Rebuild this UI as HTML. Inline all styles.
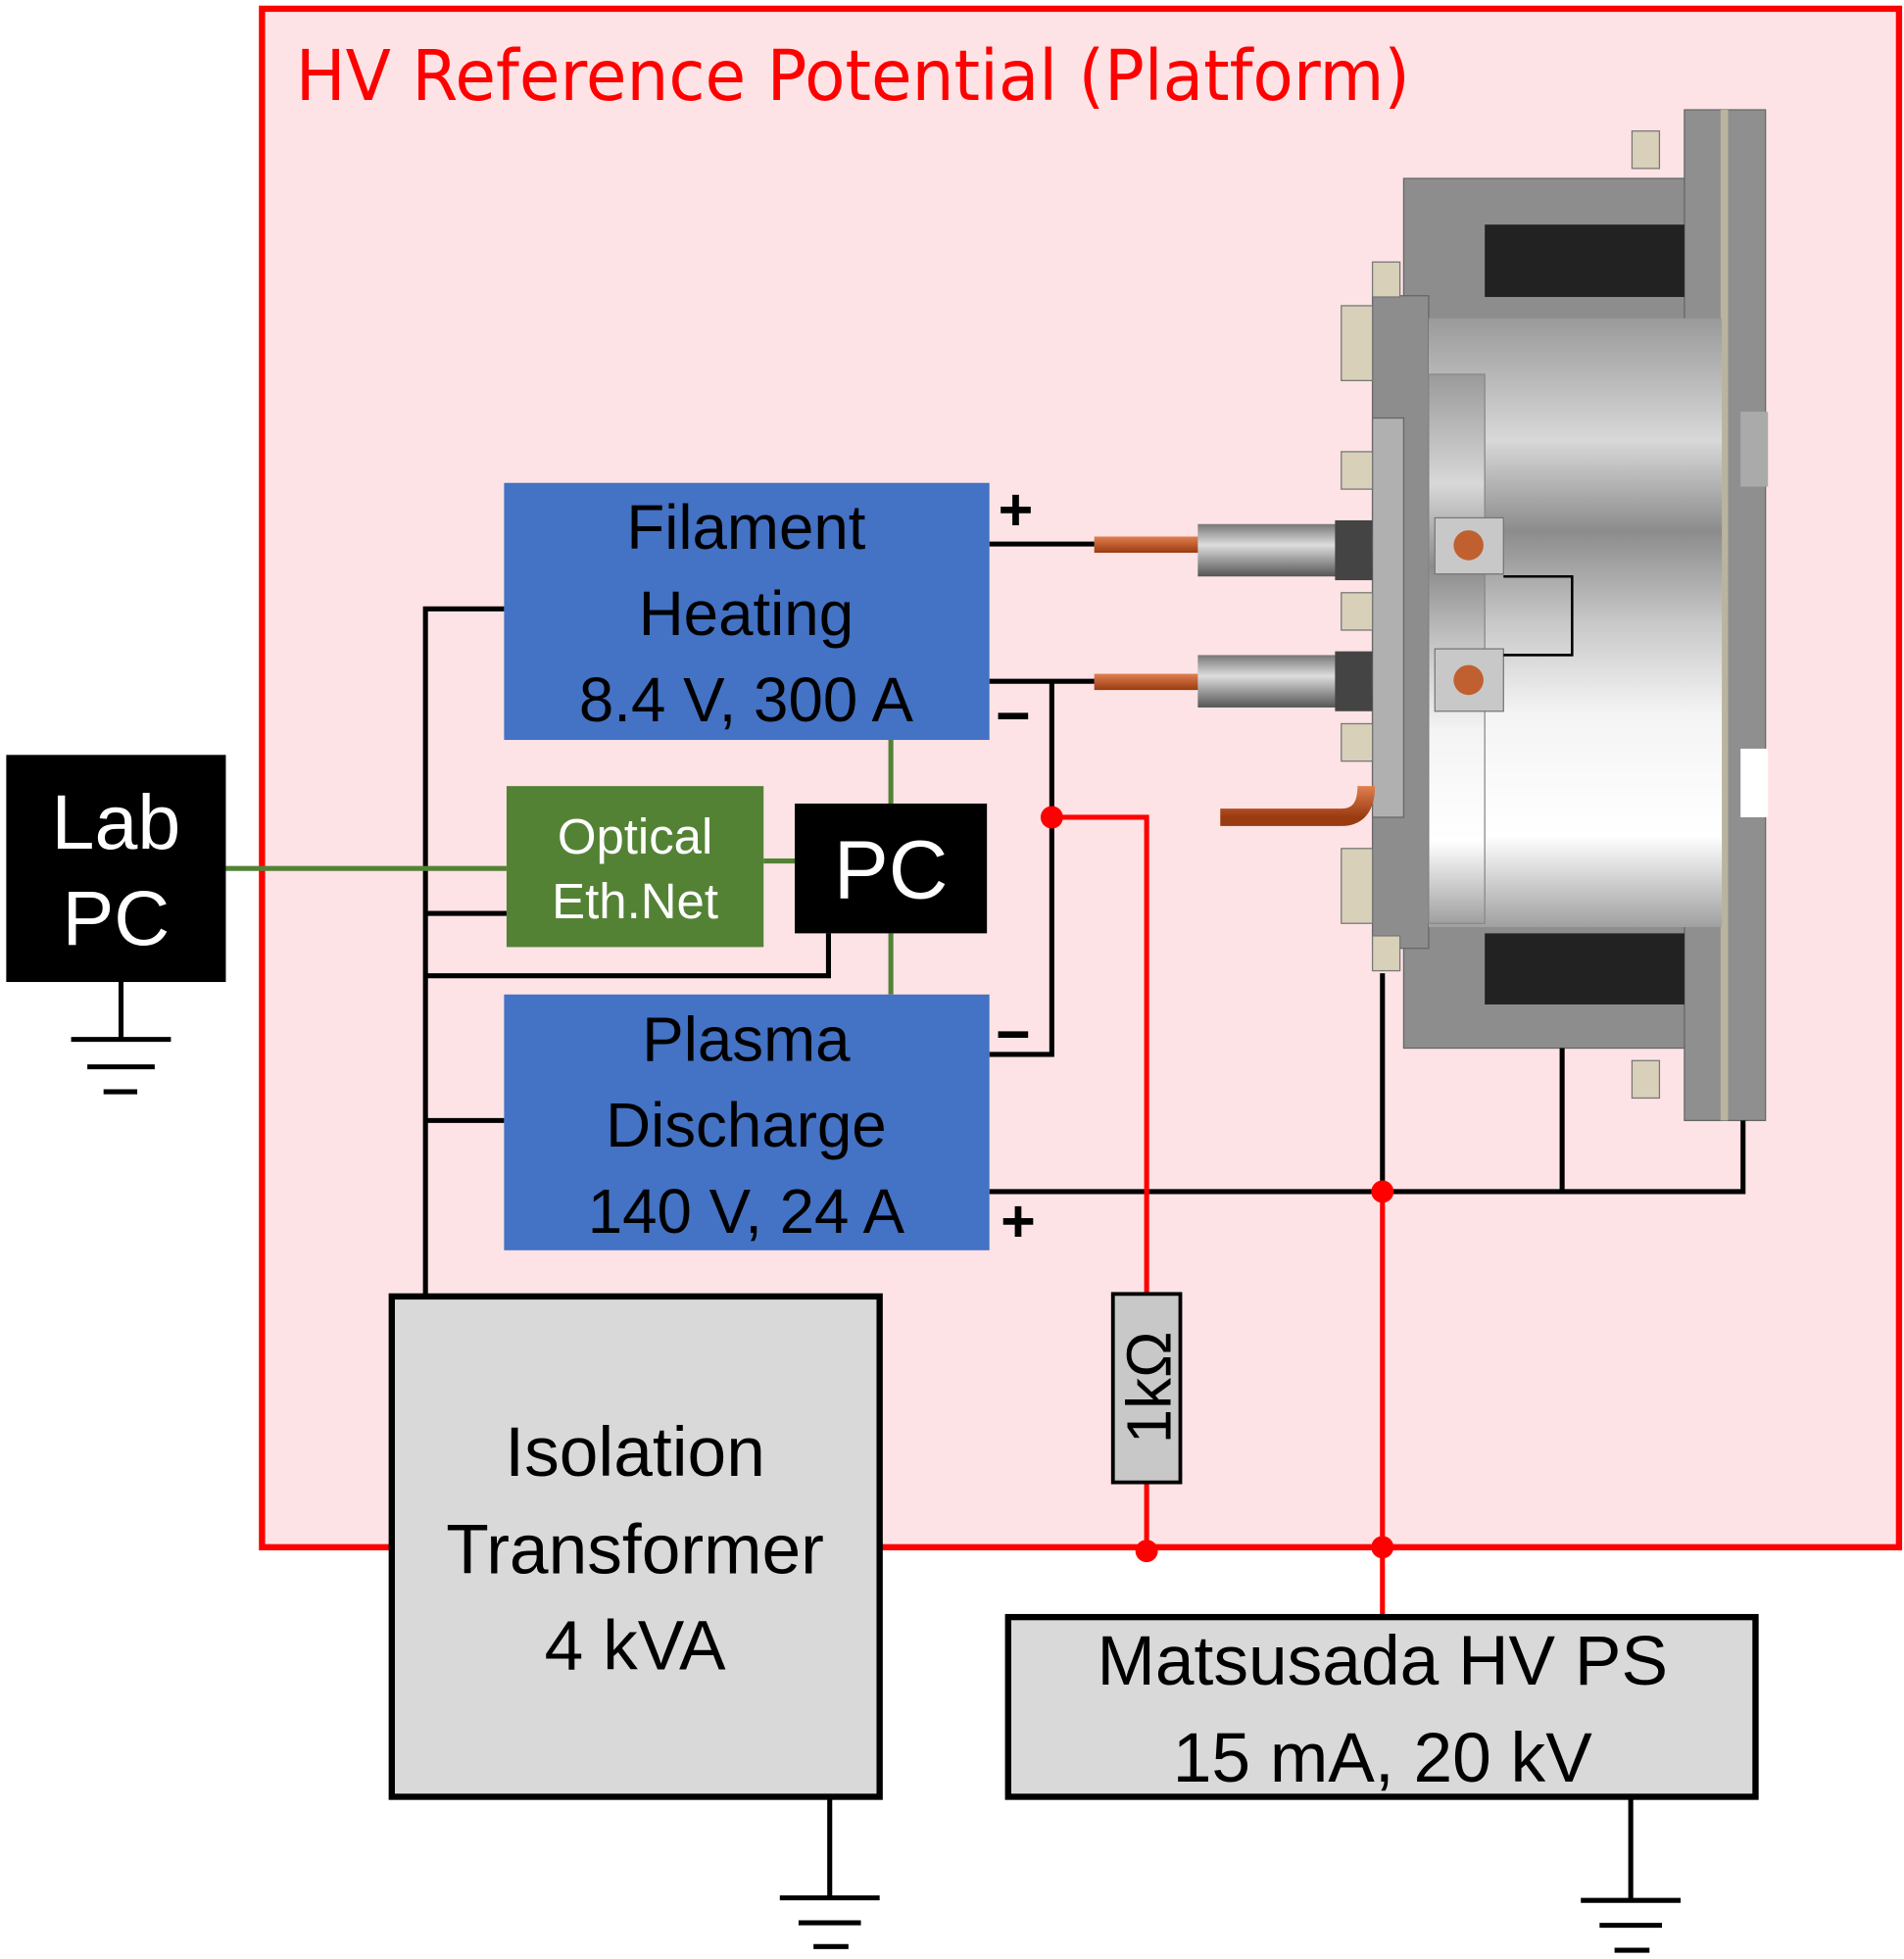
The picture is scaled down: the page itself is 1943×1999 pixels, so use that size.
<!DOCTYPE html>
<html><head><meta charset="utf-8"><style>html,body{margin:0;padding:0;background:#fff}svg{display:block}text{font-family:"Liberation Sans",sans-serif}</style></head>
<body>
<svg width="1943" height="1999" viewBox="0 0 1526 1570" preserveAspectRatio="none" xmlns="http://www.w3.org/2000/svg">
<defs>
<linearGradient id="cyl" x1="0" y1="0" x2="0" y2="1">
<stop offset="0" stop-color="#9a9a9a"/><stop offset="0.2" stop-color="#d8d8d8"/><stop offset="0.35" stop-color="#8c8c8c"/><stop offset="0.5" stop-color="#c8c8c8"/><stop offset="0.65" stop-color="#f4f4f4"/><stop offset="0.85" stop-color="#ffffff"/><stop offset="1" stop-color="#a0a0a0"/>
</linearGradient>
<linearGradient id="cu" x1="0" y1="0" x2="0" y2="1"><stop offset="0" stop-color="#e08050"/><stop offset="1" stop-color="#9a3a10"/></linearGradient>
<linearGradient id="conn" x1="0" y1="0" x2="0" y2="1"><stop offset="0" stop-color="#777"/><stop offset="0.4" stop-color="#ddd"/><stop offset="1" stop-color="#555"/></linearGradient>
</defs>
<rect x="210" y="7" width="1312" height="1233" fill="#fde3e5" stroke="#ff0000" stroke-width="5"/>
<text x="237" y="80" font-size="56" fill="#ff0000" textLength="893" lengthAdjust="spacingAndGlyphs" style="font-family:'DejaVu Sans','Liberation Sans',sans-serif">HV Reference Potential (Platform)</text>

<!-- device -->
<rect x="1350" y="88" width="65" height="810" fill="#8f8f8f" stroke="#666"/>
<line x1="1382" y1="88" x2="1382" y2="898" stroke="#b8b4a0" stroke-width="6"/>
<rect x="1125" y="143" width="225" height="697" fill="#8d8d8d" stroke="#666"/>
<rect x="1100" y="237" width="45" height="523" fill="#8d8d8d" stroke="#666"/>
<rect x="1190" y="180" width="160" height="58" fill="#222"/>
<rect x="1190" y="748" width="160" height="57" fill="#222"/>
<rect x="1145" y="255" width="235" height="488" fill="url(#cyl)"/>
<rect x="1145" y="300" width="45" height="440" fill="url(#cyl)" stroke="#888"/>
<rect x="1100" y="335" width="25" height="320" fill="#b0b0b0" stroke="#666"/>
<rect x="1395" y="330" width="22" height="60" fill="#aaa"/>
<rect x="1395" y="600" width="22" height="55" fill="#fff"/>
<g fill="#d8d0b8" stroke="#777">
<rect x="1308" y="105" width="22" height="30"/><rect x="1100" y="210" width="22" height="28"/><rect x="1075" y="245" width="25" height="60"/><rect x="1075" y="362" width="25" height="30"/><rect x="1075" y="475" width="25" height="30"/><rect x="1075" y="580" width="25" height="30"/><rect x="1075" y="680" width="25" height="60"/><rect x="1100" y="750" width="22" height="28"/><rect x="1308" y="850" width="22" height="30"/>
</g>
<rect x="877" y="430" width="85" height="13" fill="url(#cu)"/>
<rect x="877" y="540" width="85" height="13" fill="url(#cu)"/>
<rect x="960" y="420" width="140" height="42" fill="url(#conn)"/>
<rect x="960" y="525" width="140" height="42" fill="url(#conn)"/>
<rect x="1070" y="417" width="30" height="48" fill="#444"/>
<rect x="1070" y="522" width="30" height="48" fill="#444"/>
<path d="M978 655 H1075 Q1095 655 1095 630" fill="none" stroke="url(#cu)" stroke-width="14"/>
<g fill="#c8c8c8" stroke="#777"><rect x="1150" y="415" width="55" height="45"/><rect x="1150" y="520" width="55" height="50"/></g>
<circle cx="1177" cy="437" r="12" fill="#c06030"/><circle cx="1177" cy="545" r="12" fill="#c06030"/>
<path d="M1205 462 H1260 V525 H1205" fill="none" stroke="#000" stroke-width="2"/>

<!-- wires black -->
<g stroke="#000" stroke-width="4" fill="none">
<path d="M341 1039 V488 H404"/>
<path d="M341 732 H406"/>
<path d="M341 782 H664 V748"/>
<path d="M341 898 H404"/>
<path d="M793 436 H877"/>
<path d="M793 546 H877"/>
<path d="M843 546 V845 H793"/>
<path d="M793 955 H1397 V898"/>
<path d="M1252 955 V840"/>
<path d="M1108 955 V780"/>
<path d="M97 787 V832 M57 833 H137 M70 855 H124 M83 875 H110"/>
<path d="M665 1440 V1520 M625 1521 H705 M640 1541 H690 M652 1560 H680"/>
<path d="M1307 1440 V1522 M1267 1523 H1347 M1282 1543 H1332 M1294 1563 H1322"/>
</g>
<g stroke="#548235" stroke-width="4" fill="none">
<path d="M181 696 H406"/><path d="M612 690 H637"/><path d="M714 593 V644"/><path d="M714 748 V797"/>
</g>
<g stroke="#ff0000" stroke-width="4" fill="none">
<path d="M843 655 H919 V1037"/><path d="M919 1188 V1243"/><path d="M1108 955 V1296"/>
</g>
<g fill="#ff0000"><circle cx="843" cy="655" r="9"/><circle cx="919" cy="1243" r="9"/><circle cx="1108" cy="955" r="9"/><circle cx="1108" cy="1240" r="9"/></g>

<!-- boxes -->
<rect x="404" y="387" width="389" height="206" fill="#4472c4"/>
<g font-size="50" fill="#000" text-anchor="middle"><text x="598" y="440">Filament</text><text x="598" y="509">Heating</text><text x="598" y="578">8.4 V, 300 A</text></g>
<rect x="404" y="797" width="389" height="205" fill="#4472c4"/>
<g font-size="50" fill="#000" text-anchor="middle"><text x="598" y="850">Plasma</text><text x="598" y="919">Discharge</text><text x="598" y="988">140 V, 24 A</text></g>
<rect x="406" y="630" width="206" height="129" fill="#548235"/>
<g font-size="40" fill="#fff" text-anchor="middle"><text x="509" y="684">Optical</text><text x="509" y="736">Eth.Net</text></g>
<rect x="637" y="644" width="154" height="104" fill="#000"/>
<text x="714" y="720" font-size="66" fill="#fff" text-anchor="middle">PC</text>
<rect x="5" y="605" width="176" height="182" fill="#000"/>
<g font-size="62" fill="#fff" text-anchor="middle"><text x="93" y="680">Lab</text><text x="93" y="757">PC</text></g>
<g font-size="48" font-weight="bold" fill="#000"><text x="800" y="425">+</text><text x="798" y="590">−</text><text x="798" y="845">−</text><text x="802" y="995">+</text></g>
<rect x="314" y="1039" width="391" height="401" fill="#d9d9d9" stroke="#000" stroke-width="5"/>
<g font-size="56" fill="#000" text-anchor="middle"><text x="509" y="1183">Isolation</text><text x="509" y="1261">Transformer</text><text x="509" y="1338">4 kVA</text></g>
<rect x="808" y="1296" width="599" height="144" fill="#d9d9d9" stroke="#000" stroke-width="5"/>
<g font-size="56" fill="#000" text-anchor="middle"><text x="1108" y="1350">Matsusada HV PS</text><text x="1108" y="1428">15 mA, 20 kV</text></g>
<rect x="892" y="1037" width="54" height="151" fill="#c8c8c8" stroke="#000" stroke-width="3"/>
<text transform="translate(938,1112) rotate(-90)" font-size="50" fill="#000" text-anchor="middle">1kΩ</text>
</svg>
</body></html>
